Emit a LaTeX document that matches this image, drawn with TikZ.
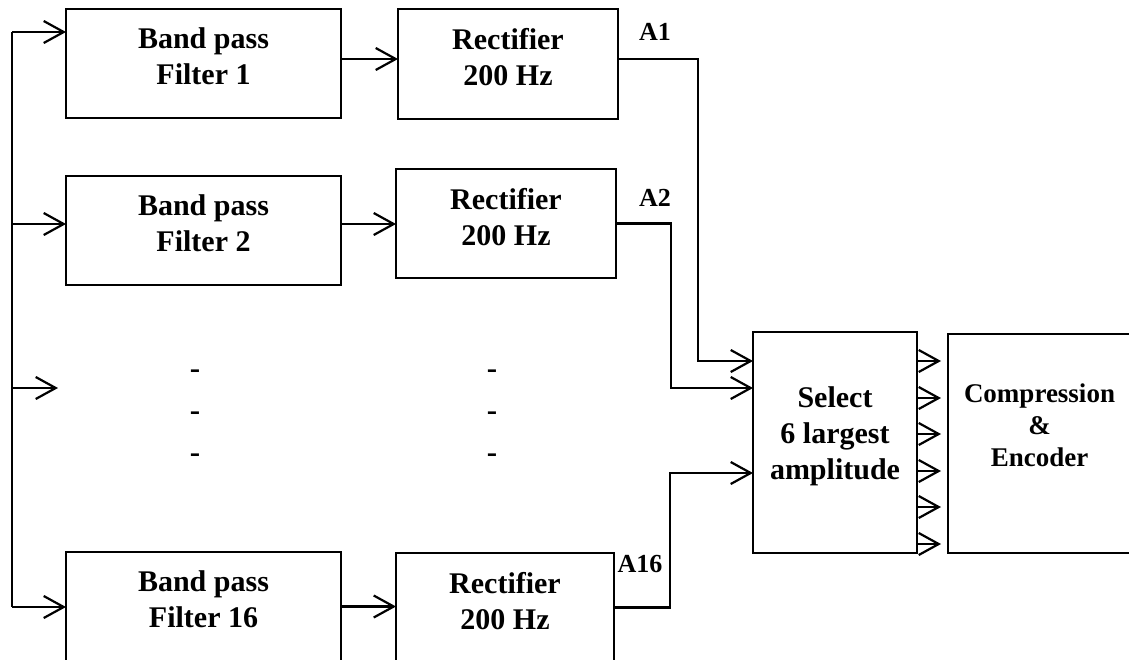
\documentclass[tikz,border=0pt]{standalone}
\usepackage{fontspec}
\setmainfont{Liberation Serif}
\usetikzlibrary{arrows.meta}
\tikzset{
    block/.style={
        rectangle, draw, line width=2.2pt, anchor=north west,
        align=center, inner sep=0pt, outer sep=0pt,
        font=\fontsize{30}{36}\selectfont\bfseries
    },
    line/.style={draw, line width=2.2pt},
    arrow/.style={line, -{Straight Barb[length=20pt, width=22pt]}},
    tag/.style={inner sep=0pt, font=\fontsize{26}{30}\selectfont\bfseries},
    gap/.style={inner sep=0pt, font=\fontsize{31}{36}\selectfont\bfseries}
}
\begin{document}
\begin{tikzpicture}[x=1pt, y=-1pt]
    \useasboundingbox (0,0) rectangle (1129,659);
    \clip (0,0) rectangle (1129,659);

    % filter bank
    \node [block, minimum width=275pt, minimum height=109pt, text depth=15pt] (f1) at (66,9) {Band pass\\Filter 1};
    \node [block, minimum width=275pt, minimum height=109pt, text depth=15pt] (f2) at (66,176) {Band pass\\Filter 2};
    \node [block, minimum width=275pt, minimum height=109pt, text depth=15pt] (f16) at (66,552) {Band pass\\Filter 16};

    % rectifiers
    \node [block, minimum width=220pt, minimum height=110pt, text depth=14pt] (r1) at (398,9) {Rectifier\\200 Hz};
    \node [block, minimum width=220pt, minimum height=109pt, text depth=14pt] (r2) at (396,169) {Rectifier\\200 Hz};
    \node [block, minimum width=218pt, minimum height=109pt, text depth=14pt] (r16) at (396,553) {Rectifier\\200 Hz};

    % selection and coding
    \node [block, minimum width=164pt, minimum height=221pt, text depth=19pt] (sel) at (753,332) {Select\\6 largest\\amplitude};
    \node [block, minimum width=183pt, minimum height=219pt, text depth=37pt, font=\fontsize{27}{32}\selectfont\bfseries] (comp) at (948,334) {Compression\\\&\\Encoder};

    % channel labels
    \node [tag] (a1) at (655,32) {A1};
    \node [tag] (a2) at (655,198) {A2};
    \node [tag] (a16) at (640,564) {A16};

    % skipped channels
    \node [gap] (g1) at (195,374) {-};
    \node [gap] (g2) at (195,416) {-};
    \node [gap] (g3) at (195,458) {-};
    \node [gap] (g4) at (492,374) {-};
    \node [gap] (g5) at (492,416) {-};
    \node [gap] (g6) at (492,458) {-};

    % input bus
    \coordinate (b1) at (12,32);
    \coordinate (b2) at (12,224);
    \coordinate (b3) at (12,388);
    \coordinate (b16) at (12,607);
    \coordinate (gapin) at (58,388);
    \draw [line] (b1) -- (b16);
    \draw [arrow] (b1) -- (b1 -| f1.west);
    \draw [arrow] (b2) -- (b2 -| f2.west);
    \draw [arrow] (b3) -- (gapin);
    \draw [arrow] (b16) -- (b16 -| f16.west);

    \draw [arrow] ([yshift=4.5pt]f1.east) -- ([yshift=4.5pt]f1.east -| r1.west);
    \draw [arrow] ([yshift=6.5pt]f2.east) -- ([yshift=6.5pt]f2.east -| r2.west);
    \draw [arrow] (f16.east) -- (f16.east -| r16.west);

    % amplitudes to selector
    \coordinate (k1) at (698,361);
    \coordinate (k2) at (671,388);
    \coordinate (k16) at (670,473);
    \draw [arrow] ([yshift=5pt]r1.east) -| (k1) -- (k1 -| sel.west);
    \draw [arrow] (r2.east) -| (k2) -- (k2 -| sel.west);
    \draw [arrow] (r16.east) -| (k16) -- (k16 -| sel.west);

    % six outputs
    \coordinate (o1) at (941,361);
    \coordinate (o2) at (941,398);
    \coordinate (o3) at (941,434);
    \coordinate (o4) at (941,471);
    \coordinate (o5) at (941,507);
    \coordinate (o6) at (941,544);
    \draw [arrow] (o1 -| sel.east) -- (o1);
    \draw [arrow] (o2 -| sel.east) -- (o2);
    \draw [arrow] (o3 -| sel.east) -- (o3);
    \draw [arrow] (o4 -| sel.east) -- (o4);
    \draw [arrow] (o5 -| sel.east) -- (o5);
    \draw [arrow] (o6 -| sel.east) -- (o6);
\end{tikzpicture}
\end{document}
